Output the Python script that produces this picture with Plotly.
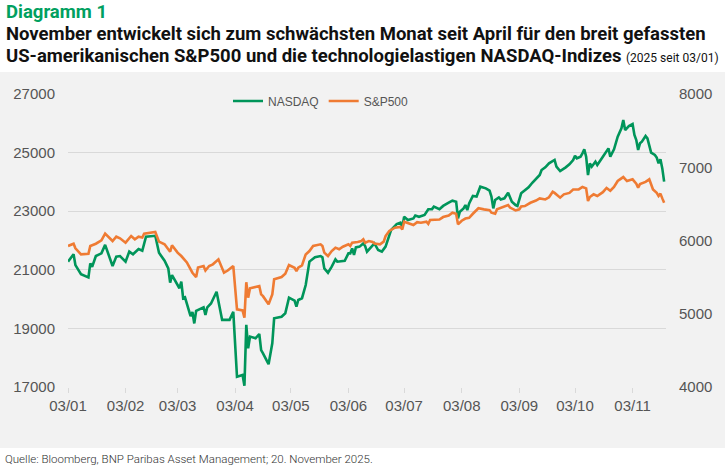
import plotly.graph_objects as go

# NASDAQ 100 (linke Achse)
nasdaq_dates = [
    "2025-01-03", "2025-01-06", "2025-01-07", "2025-01-10", "2025-01-14", "2025-01-15",
    "2025-01-16", "2025-01-18", "2025-01-21", "2025-01-23", "2025-01-27", "2025-01-29",
    "2025-01-31", "2025-02-03", "2025-02-05", "2025-02-07", "2025-02-10", "2025-02-12",
    "2025-02-14", "2025-02-19", "2025-02-21", "2025-02-24", "2025-02-26", "2025-02-27",
    "2025-02-28", "2025-03-04", "2025-03-05", "2025-03-06", "2025-03-07", "2025-03-10",
    "2025-03-11", "2025-03-12", "2025-03-13", "2025-03-17", "2025-03-18", "2025-03-19",
    "2025-03-21", "2025-03-24", "2025-03-27", "2025-03-31", "2025-04-02", "2025-04-04",
    "2025-04-07", "2025-04-08", "2025-04-09", "2025-04-10", "2025-04-11", "2025-04-14",
    "2025-04-16", "2025-04-17", "2025-04-18", "2025-04-21", "2025-04-23", "2025-04-24",
    "2025-04-28", "2025-04-30", "2025-05-02", "2025-05-05", "2025-05-06", "2025-05-07",
    "2025-05-09", "2025-05-11", "2025-05-13", "2025-05-16", "2025-05-19", "2025-05-20",
    "2025-05-21", "2025-05-23", "2025-05-25", "2025-05-27", "2025-05-28", "2025-06-01",
    "2025-06-03", "2025-06-04", "2025-06-05", "2025-06-06", "2025-06-07", "2025-06-09",
    "2025-06-11", "2025-06-12", "2025-06-13", "2025-06-16", "2025-06-17", "2025-06-19",
    "2025-06-21", "2025-06-23", "2025-06-25", "2025-06-26", "2025-06-29", "2025-07-01",
    "2025-07-02", "2025-07-03", "2025-07-05", "2025-07-08", "2025-07-09", "2025-07-11",
    "2025-07-14", "2025-07-16", "2025-07-18", "2025-07-19", "2025-07-22", "2025-07-24",
    "2025-07-27", "2025-07-29", "2025-07-31", "2025-08-01", "2025-08-02", "2025-08-04",
    "2025-08-05", "2025-08-06", "2025-08-07", "2025-08-09", "2025-08-11", "2025-08-13",
    "2025-08-16", "2025-08-18", "2025-08-19", "2025-08-20", "2025-08-21", "2025-08-23",
    "2025-08-24", "2025-08-26", "2025-08-28", "2025-08-29", "2025-08-30", "2025-09-01",
    "2025-09-02", "2025-09-04", "2025-09-06", "2025-09-08", "2025-09-10", "2025-09-12",
    "2025-09-14", "2025-09-15", "2025-09-17", "2025-09-19", "2025-09-21", "2025-09-22",
    "2025-09-23", "2025-09-25", "2025-09-28", "2025-09-30", "2025-10-02", "2025-10-03",
    "2025-10-04", "2025-10-06", "2025-10-07", "2025-10-08", "2025-10-09", "2025-10-10",
    "2025-10-11", "2025-10-12", "2025-10-14", "2025-10-15", "2025-10-18", "2025-10-20",
    "2025-10-21", "2025-10-22", "2025-10-24", "2025-10-26", "2025-10-28", "2025-10-29",
    "2025-10-30", "2025-11-01", "2025-11-03", "2025-11-04", "2025-11-05", "2025-11-06",
    "2025-11-07", "2025-11-08", "2025-11-10", "2025-11-11", "2025-11-13", "2025-11-15",
    "2025-11-16", "2025-11-17", "2025-11-18", "2025-11-19", "2025-11-20",
]
nasdaq_values = [
    21280, 21530, 21160, 20850, 20740, 21220,
    21100, 21470, 21560, 21850, 21130, 21450,
    21470, 21280, 21620, 21530, 21710, 21650,
    22130, 22160, 21580, 21310, 21050, 20560,
    20820, 20370, 20600, 20030, 20060, 19420,
    19560, 19170, 19600, 19720, 19460, 19720,
    19850, 20250, 19290, 19290, 19570, 17350,
    17410, 17045, 19120, 18320, 18720, 18660,
    18810, 18260, 18150, 17780, 18490, 19345,
    19400, 19515, 20050, 19946, 19740, 19970,
    20030, 20480, 21280, 21430, 21470, 21430,
    21050, 20900, 21106, 21355, 21277, 21310,
    21560, 21560, 21730, 21505, 21766, 21790,
    21900, 21810, 21620, 21850, 21900, 21675,
    21620, 21790, 22130, 22360, 22560, 22610,
    22450, 22810, 22700, 22755, 22850, 22810,
    22870, 23065, 23070, 23154, 23065, 23180,
    23290, 23360, 23326, 22757, 22983, 23097,
    23210, 23040, 23267, 23520, 23500, 23836,
    23780, 23700, 23496, 23097, 23382, 23470,
    23400, 23440, 23631, 23500, 23325, 23210,
    23180, 23609, 23723, 23813, 23970, 24120,
    24235, 24406, 24497, 24633, 24713, 24747,
    24519, 24372, 24497, 24600, 24748, 24895,
    24805, 24860, 24975, 25110, 24860, 24235,
    24633, 24520, 24690, 24575, 24860, 25030,
    25145, 24860, 25110, 25543, 25827, 26112,
    25770, 25907, 25975, 25600, 25430, 25090,
    25316, 25372, 25566, 25485, 25000, 24920,
    24830, 24635, 24770, 24460, 24007,
]

# S&P 500 (rechte Achse)
spx_dates = [
    "2025-01-03", "2025-01-06", "2025-01-07", "2025-01-10", "2025-01-14", "2025-01-15",
    "2025-01-18", "2025-01-21", "2025-01-23", "2025-01-27", "2025-01-29", "2025-01-31",
    "2025-02-03", "2025-02-06", "2025-02-08", "2025-02-10", "2025-02-12", "2025-02-13",
    "2025-02-19", "2025-02-21", "2025-02-24", "2025-02-27", "2025-02-28", "2025-03-03",
    "2025-03-05", "2025-03-07", "2025-03-08", "2025-03-11", "2025-03-13", "2025-03-14",
    "2025-03-17", "2025-03-18", "2025-03-20", "2025-03-22", "2025-03-25", "2025-03-28",
    "2025-03-30", "2025-04-02", "2025-04-04", "2025-04-07", "2025-04-08", "2025-04-09",
    "2025-04-10", "2025-04-11", "2025-04-14", "2025-04-16", "2025-04-17", "2025-04-18",
    "2025-04-21", "2025-04-23", "2025-04-24", "2025-04-28", "2025-04-30", "2025-05-02",
    "2025-05-05", "2025-05-06", "2025-05-07", "2025-05-09", "2025-05-11", "2025-05-13",
    "2025-05-15", "2025-05-19", "2025-05-20", "2025-05-21", "2025-05-23", "2025-05-25",
    "2025-05-27", "2025-05-29", "2025-05-31", "2025-06-03", "2025-06-04", "2025-06-05",
    "2025-06-08", "2025-06-10", "2025-06-11", "2025-06-12", "2025-06-14", "2025-06-16",
    "2025-06-17", "2025-06-20", "2025-06-22", "2025-06-23", "2025-06-25", "2025-06-28",
    "2025-07-01", "2025-07-02", "2025-07-03", "2025-07-05", "2025-07-08", "2025-07-10",
    "2025-07-12", "2025-07-15", "2025-07-16", "2025-07-17", "2025-07-22", "2025-07-24",
    "2025-07-27", "2025-07-29", "2025-07-31", "2025-08-01", "2025-08-03", "2025-08-05",
    "2025-08-07", "2025-08-09", "2025-08-12", "2025-08-15", "2025-08-18", "2025-08-19",
    "2025-08-21", "2025-08-22", "2025-08-25", "2025-08-28", "2025-08-29", "2025-09-01",
    "2025-09-03", "2025-09-04", "2025-09-06", "2025-09-09", "2025-09-12", "2025-09-14",
    "2025-09-17", "2025-09-19", "2025-09-21", "2025-09-22", "2025-09-25", "2025-09-27",
    "2025-09-30", "2025-10-02", "2025-10-05", "2025-10-07", "2025-10-09", "2025-10-10",
    "2025-10-11", "2025-10-13", "2025-10-15", "2025-10-18", "2025-10-20", "2025-10-22",
    "2025-10-24", "2025-10-26", "2025-10-29", "2025-10-31", "2025-11-03", "2025-11-05",
    "2025-11-06", "2025-11-07", "2025-11-10", "2025-11-12", "2025-11-14", "2025-11-16",
    "2025-11-17", "2025-11-18", "2025-11-19", "2025-11-20",
]
spx_values = [
    5925, 5956, 5893, 5811, 5820, 5925,
    5956, 6002, 6093, 5993, 6052, 6030,
    5970, 6061, 6016, 6052, 6040, 6093,
    6116, 5984, 5948, 5847, 5934, 5834,
    5788, 5720, 5700, 5560, 5501, 5630,
    5652, 5590, 5652, 5675, 5743, 5560,
    5590, 5652, 5060, 5045, 4946, 5430,
    5220, 5347, 5360, 5379, 5265, 5240,
    5129, 5265, 5470, 5501, 5546, 5665,
    5628, 5583, 5630, 5660, 5810, 5856,
    5925, 5948, 5925, 5834, 5788, 5856,
    5902, 5880, 5915, 5948, 5925, 5970,
    5980, 5993, 6016, 5970, 5993, 5980,
    5960, 5948, 5985, 6061, 6130, 6175,
    6185, 6150, 6256, 6240, 6211, 6250,
    6243, 6258, 6228, 6280, 6286, 6320,
    6340, 6380, 6365, 6220, 6270, 6300,
    6310, 6365, 6440, 6425, 6415, 6380,
    6365, 6425, 6450, 6484, 6450, 6410,
    6425, 6465, 6470, 6515, 6545, 6575,
    6560, 6590, 6665, 6650, 6585, 6630,
    6650, 6697, 6697, 6730, 6712, 6539,
    6594, 6630, 6607, 6660, 6717, 6680,
    6730, 6812, 6866, 6812, 6835, 6775,
    6720, 6770, 6800, 6835, 6697, 6650,
    6607, 6640, 6575, 6515,
]

month_ticks = ["2025-01-03", "2025-02-03", "2025-03-03", "2025-04-03", "2025-05-03", "2025-06-03",
               "2025-07-03", "2025-08-03", "2025-09-03", "2025-10-03", "2025-11-03"]
month_labels = ["03/01", "03/02", "03/03", "03/04", "03/05", "03/06",
                "03/07", "03/08", "03/09", "03/10", "03/11"]
left_ticks = [17000, 19000, 21000, 23000, 25000, 27000]
right_ticks = [4000, 5000, 6000, 7000, 8000]

GREEN = "#00955a"
ORANGE = "#ef7b33"
W, H = 725, 467
L, R, T, B = 68, 59, 94, 80
PW, PH = W - L - R, H - T - B
TITLE_FONT = "Roboto, Liberation Sans, sans-serif"


def px_x(x):
    return (x - L) / PW


def px_y(y):
    return (H - B - y) / PH


fig = go.Figure()
fig.add_trace(go.Scatter(x=nasdaq_dates, y=nasdaq_values, name="NASDAQ", mode="lines",
                         line=dict(color=GREEN, width=2.6)))
fig.add_trace(go.Scatter(x=spx_dates, y=spx_values, name="S&P500", mode="lines",
                         line=dict(color=ORANGE, width=2.6), yaxis="y2"))

fig.update_layout(
    width=W, height=H,
    margin=dict(l=L, r=R, t=T, b=B, autoexpand=False),
    paper_bgcolor="white",
    plot_bgcolor="rgba(0,0,0,0)",
    font=dict(family="Liberation Sans, Arial, sans-serif", color="#555555", size=15),
    showlegend=True,
    legend=dict(orientation="h", x=px_x(228), y=px_y(101), xanchor="left", yanchor="middle",
                bgcolor="rgba(0,0,0,0)", font=dict(size=12, color="#555555"),
                itemwidth=30, tracegroupgap=0),
    xaxis=dict(
        type="date", range=["2025-01-03", "2025-11-21"],
        tickvals=month_ticks, ticktext=month_labels,
        showgrid=False, zeroline=False, automargin=False,
        showline=False, ticks="outside", ticklen=5, tickcolor="#d9d9d9", tickwidth=1,
        tickfont=dict(size=15, color="#555555"),
    ),
    yaxis=dict(
        range=[17000, 27000], tickvals=left_ticks, ticktext=[str(v) for v in left_ticks],
        showgrid=True, gridcolor="#d9d9d9", gridwidth=1, zeroline=False, automargin=False,
        tickfont=dict(size=15, color="#555555"), ticklabelstandoff=12,
    ),
    yaxis2=dict(
        range=[4000, 8000], tickvals=right_ticks, ticktext=[str(v) for v in right_ticks],
        overlaying="y", side="right", showgrid=False, zeroline=False, automargin=False,
        tickfont=dict(size=15, color="#555555"), ticklabelstandoff=12,
    ),
)

# grauer Hintergrund hinter der Grafik
fig.add_shape(type="rect", xref="paper", yref="paper",
              x0=px_x(0), x1=px_x(W), y0=px_y(448), y1=px_y(72),
              fillcolor="#f2f2f2", line=dict(width=0), layer="below")

fig.add_annotation(text="<b>Diagramm 1</b>", xref="paper", yref="paper",
                   x=px_x(4), y=px_y(12), xanchor="left", yanchor="middle", showarrow=False,
                   font=dict(family=TITLE_FONT, size=18.5, color="#00a060"))
fig.add_annotation(text="<b>November entwickelt sich zum schwächsten Monat seit April für den breit gefassten</b>",
                   xref="paper", yref="paper", x=px_x(4), y=px_y(34), xanchor="left", yanchor="middle",
                   showarrow=False,
                   font=dict(family=TITLE_FONT, size=18.5, color="#111111"))
fig.add_annotation(text="<b>US-amerikanischen S&P500 und die technologielastigen NASDAQ-Indizes</b> "
                        "<span style='font-size:12px'>(2025 seit 03/01)</span>",
                   xref="paper", yref="paper", x=px_x(4), y=px_y(56), xanchor="left", yanchor="middle",
                   showarrow=False,
                   font=dict(family=TITLE_FONT, size=18.5, color="#111111"))
fig.add_annotation(text="Quelle: Bloomberg, BNP Paribas Asset Management; 20. November 2025.",
                   xref="paper", yref="paper", x=px_x(3), y=px_y(459), xanchor="left", yanchor="middle",
                   showarrow=False,
                   font=dict(family="Roboto, sans-serif", size=11.5, color="#333333", weight=300))

# Seite ohne Standardrand, damit die Grafik bei (0,0) beginnt
fig.write_html("out.html", config={"displayModeBar": False},
               post_script="document.body.style.margin='0';")
